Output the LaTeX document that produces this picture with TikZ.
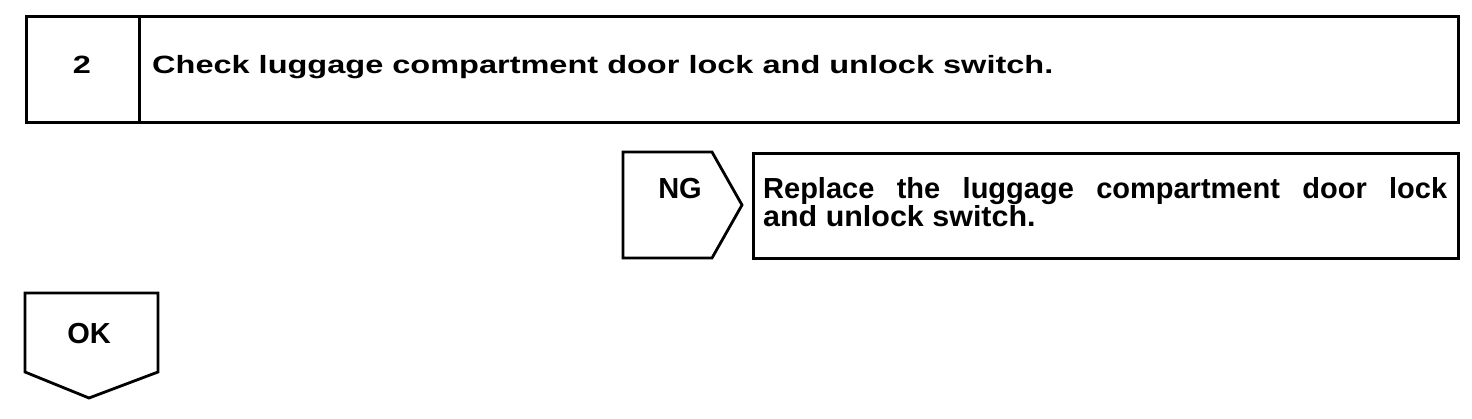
\documentclass[tikz,border=0pt]{standalone}
\usepackage{fontspec}
\setmainfont{Liberation Sans}
\tikzset{
  frame/.style={draw=black, line width=2.8pt, line join=miter},
  txt/.style={inner sep=0pt, font=\bfseries},
}
\newcommand{\topfont}{\fontsize{25}{28}\selectfont\bfseries}
\newcommand{\bigfont}{\fontsize{29}{27}\selectfont\bfseries}
\begin{document}
\begin{tikzpicture}[x=1pt,y=-1pt]
\useasboundingbox (0,0) rectangle (1472,418);
% top step box
\node[frame, anchor=north west, minimum width=113pt, minimum height=106pt, inner sep=0pt] (numbox) at (25,15) {};
\node[frame, anchor=north west, minimum width=1319pt, minimum height=106pt, inner sep=0pt] (titlebox) at (138,15) {};
\node[txt, anchor=base] (num) at (82,73) {\scalebox{1.3}[1]{\topfont 2}};
\node[txt, anchor=base west] (title) at (152,73) {\scalebox{1.3}[1]{\topfont Check luggage compartment door lock and unlock switch.}};
% NG pentagon
\draw[frame] (623,152) -- (712,152) -- (742,205) -- (712,258) -- (623,258) -- cycle;
\node[txt, anchor=base] (ng) at (680,198) {\bigfont NG};
% replace box
\node[frame, anchor=north west, minimum width=705pt, minimum height=105pt, inner sep=0pt] (repbox) at (752,152) {};
\node[txt, anchor=base west] (rep) at (763,198) {\parbox[t]{684pt}{\bigfont\makebox[684pt][s]{Replace the luggage compartment door lock}\\\scalebox{1.05}[1]{and unlock switch.}}};
% OK pentagon
\draw[frame] (25,293) -- (158,293) -- (158,372) -- (89,398) -- (25,372) -- cycle;
\node[txt, anchor=base] (ok) at (89,343) {\bigfont OK};
\end{tikzpicture}
\end{document}
